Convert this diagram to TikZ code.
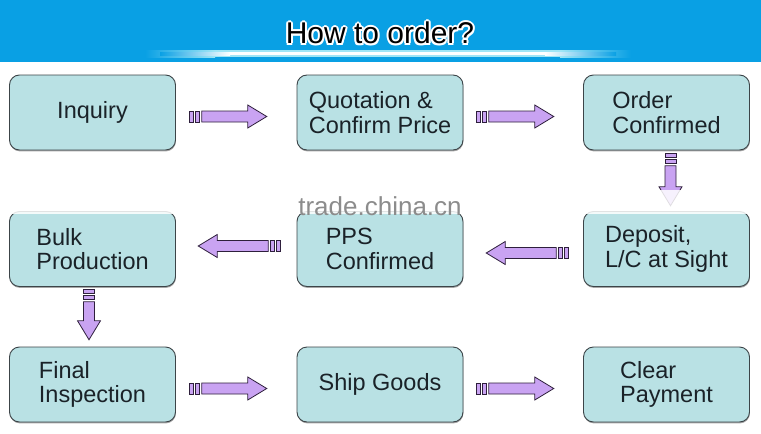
\documentclass[tikz,border=0pt]{standalone}
\usepackage{fontspec}
\setmainfont{Liberation Sans}
\usepackage{xcolor}
\usetikzlibrary{calc,shadows}
\definecolor{headblue}{HTML}{09A0E4}
\definecolor{glowcyan}{HTML}{9FE6F6}
\definecolor{boxfill}{HTML}{B9E1E4}
\definecolor{boxline}{HTML}{3C4448}
\definecolor{arrowfill}{HTML}{C9A3F2}
\definecolor{arrowline}{HTML}{2E1F3C}
\definecolor{stepink}{HTML}{1A2228}
\definecolor{wmgray}{HTML}{8C8C8C}

\tikzset{
  pics/blockarrow/.style={code={
    \filldraw[fill=arrowfill, draw=arrowline, line width=0.8pt] ({-#1/2},-5.5) rectangle ++(4,11);
    \filldraw[fill=arrowfill, draw=arrowline, line width=0.8pt] ({-#1/2+6},-5.5) rectangle ++(4,11);
    \filldraw[fill=arrowfill, draw=arrowline, line width=0.8pt]
      ({-#1/2+12},-5.5) -- ({#1/2-19},-5.5) -- ({#1/2-19},-11.5) -- ({#1/2},0)
      -- ({#1/2-19},11.5) -- ({#1/2-19},5.5) -- ({-#1/2+12},5.5) -- cycle;
  }}
}

\begin{document}
\begin{tikzpicture}[
    x=1pt, y=-1pt,
    stepbox/.style={rectangle, rounded corners=10pt, draw=boxline, line width=0.9pt, fill=boxfill,
      minimum width=166pt, minimum height=75pt, inner sep=0pt, align=left, text=stepink,
      font=\fontsize{23.5}{24.5}\selectfont,
      drop shadow={shadow xshift=0.4pt, shadow yshift=-1.4pt, fill=black, opacity=0.35}},
    titletext/.style={font=\fontsize{30}{32}\selectfont, inner sep=0pt},
    watermark/.style={font=\fontsize{26}{28}\selectfont, text=wmgray, inner sep=0pt}
]

% Canvas
\fill[white] (0,0) rectangle (761,434);
\useasboundingbox (0,0) rectangle (761,434);

% Header band
\fill[headblue] (0,0) rectangle (761,62);
\shade[left color=headblue, right color=glowcyan] (145,50) rectangle (215,57);
\fill[glowcyan] (215,50) rectangle (560,57);
\shade[left color=glowcyan, right color=headblue] (560,50) rectangle (631,57);
\shade[left color=headblue, right color=white] (160,52) rectangle (230,55);
\fill[white] (230,52) rectangle (545,55);
\shade[left color=white, right color=headblue] (545,52) rectangle (616,55);

% Title with white outline
\coordinate (titlepos) at (380,33);
\foreach \a in {0,45,...,315}
  \node[titletext, text=white] at ([shift={(\a:2)}]titlepos) {How to order?};
\node[titletext, text=black] (title) at (titlepos) {How to order?};

% Row 1
\node[stepbox] (inquiry) at (92.5,112.5) {Inquiry};
\node[stepbox] (quote) at (380,112.5) {Quotation \&\\Confirm Price};
\node[stepbox] (order) at (666.5,112.5) {Order\\Confirmed};

% Row 2
\node[stepbox] (bulk) at (92.5,249) {Bulk\\Production};
\node[stepbox] (pps) at (380,249) {PPS\\Confirmed};
\node[stepbox] (deposit) at (666.5,249) {Deposit,\\L/C at Sight};

% Row 3
\node[stepbox] (final) at (92.5,384.5) {Final\\Inspection};
\node[stepbox] (ship) at (380,384.5) {Ship Goods};
\node[stepbox] (payment) at (666.5,384.5) {Clear\\Payment};

% Arrows
\pic at ($(inquiry.east)!0.5!(quote.west)+(-8,4)$) {blockarrow=77};
\pic at ($(quote.east)!0.5!(order.west)+(-8,4)$) {blockarrow=77};
\pic[rotate=-90] at ($(order.south)!0.5!(deposit.north)+(4,-1)$) {blockarrow=52};
\pic[rotate=180] at ($(deposit.west)!0.5!(pps.east)+(4,4)$) {blockarrow=82};
\pic[rotate=180] at ($(pps.west)!0.5!(bulk.east)+(3,-3)$) {blockarrow=82};
\pic[rotate=-90] at ($(bulk.south)!0.5!(final.north)+(-3.5,-2)$) {blockarrow=50};
\pic at ($(final.east)!0.5!(ship.west)+(-8,4)$) {blockarrow=77};
\pic at ($(ship.east)!0.5!(payment.west)+(-8,4)$) {blockarrow=77};

% Watermark
\fill[white, opacity=0.85] (0,190) rectangle (761,214);
\node[watermark] (wm) at (380,206) {trade.china.cn};

\end{tikzpicture}
\end{document}
